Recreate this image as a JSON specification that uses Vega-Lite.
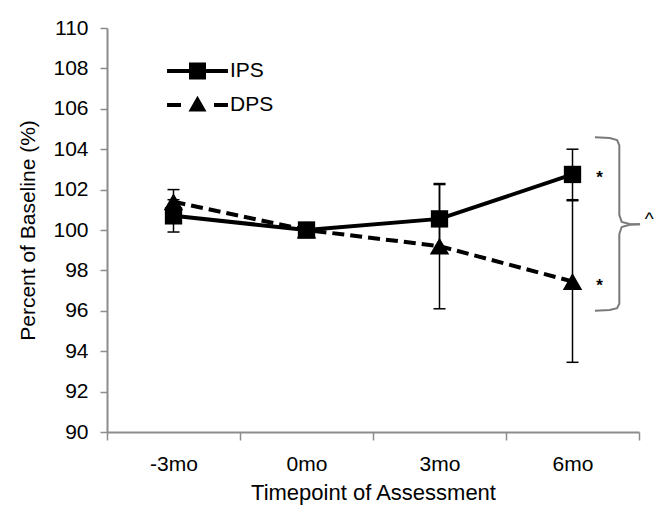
{
  "$schema": "https://vega.github.io/schema/vega-lite/v6.json",
  "width": 532,
  "height": 404,
  "autosize": {"type": "none"},
  "padding": {"left": 107, "top": 28, "right": 25, "bottom": 76},
  "background": "white",
  "config": {
    "font": "Liberation Sans",
    "view": {"stroke": null},
    "axis": {
      "labelFont": "Liberation Sans",
      "titleFont": "Liberation Sans",
      "labelColor": "#000",
      "titleColor": "#000",
      "titleFontWeight": "normal",
      "domainColor": "#8c8c8c",
      "tickColor": "#8c8c8c",
      "domainWidth": 2,
      "tickWidth": 1.5,
      "grid": false
    },
    "legend": {"labelFont": "Liberation Sans", "labelColor": "#000"}
  },
  "datasets": {
    "pts": [
      {"t": "-3mo", "series": "IPS", "mean": 100.7, "lo": 99.9, "hi": 101.5},
      {"t": "0mo", "series": "IPS", "mean": 100.0, "lo": 100.0, "hi": 100.0},
      {"t": "3mo", "series": "IPS", "mean": 100.55, "lo": 98.85, "hi": 102.25},
      {"t": "6mo", "series": "IPS", "mean": 102.75, "lo": 101.5, "hi": 104.0},
      {"t": "-3mo", "series": "DPS", "mean": 101.4, "lo": 100.8, "hi": 102.0},
      {"t": "0mo", "series": "DPS", "mean": 100.0, "lo": 100.0, "hi": 100.0},
      {"t": "3mo", "series": "DPS", "mean": 99.2, "lo": 96.1, "hi": 102.3},
      {"t": "6mo", "series": "DPS", "mean": 97.45, "lo": 93.45, "hi": 101.45}
    ],
    "stars": [
      {"t": "6mo", "v": 102.75, "txt": "*"},
      {"t": "6mo", "v": 97.45, "txt": "*"}
    ],
    "brace": [
      {"part": "upper", "ord": 1, "u": 3.669, "v": 104.59},
      {"part": "upper", "ord": 2, "u": 3.78, "v": 104.55},
      {"part": "upper", "ord": 3, "u": 3.835, "v": 104.45},
      {"part": "upper", "ord": 4, "u": 3.852, "v": 104.2},
      {"part": "upper", "ord": 5, "u": 3.852, "v": 100.75},
      {"part": "upper", "ord": 6, "u": 3.87, "v": 100.4},
      {"part": "upper", "ord": 7, "u": 3.93, "v": 100.3},
      {"part": "upper", "ord": 8, "u": 4.008, "v": 100.28},
      {"part": "lower", "ord": 1, "u": 3.669, "v": 96.0},
      {"part": "lower", "ord": 2, "u": 3.78, "v": 96.04},
      {"part": "lower", "ord": 3, "u": 3.835, "v": 96.13},
      {"part": "lower", "ord": 4, "u": 3.852, "v": 96.35},
      {"part": "lower", "ord": 5, "u": 3.852, "v": 99.8},
      {"part": "lower", "ord": 6, "u": 3.87, "v": 100.15},
      {"part": "lower", "ord": 7, "u": 3.93, "v": 100.26},
      {"part": "lower", "ord": 8, "u": 4.008, "v": 100.28}
    ],
    "caret": [{"u": 4.077, "v": 100.78, "txt": "^"}]
  },
  "layer": [
    {
      "data": {"name": "pts"},
      "encoding": {
        "x": {
          "field": "t",
          "type": "ordinal",
          "sort": ["-3mo", "0mo", "3mo", "6mo"],
          "scale": {"type": "band", "paddingInner": 0, "paddingOuter": 0},
          "axis": {
            "title": "Timepoint of Assessment",
            "labelAngle": 0,
            "tickBand": "extent",
            "tickSize": 8,
            "labelPadding": 13,
            "labelFontSize": 21,
            "titleFontSize": 22,
            "titlePadding": 8
          }
        }
      },
      "layer": [
        {
          "mark": {"type": "rule", "color": "#000", "strokeWidth": 1.5},
          "encoding": {
            "y": {
              "field": "lo",
              "type": "quantitative",
              "scale": {"domain": [90, 110], "nice": false, "zero": false},
              "axis": {
                "title": "Percent of Baseline (%)",
                "values": [90, 92, 94, 96, 98, 100, 102, 104, 106, 108, 110],
                "tickSize": 7,
                "labelPadding": 12,
                "labelFontSize": 21,
                "titleFontSize": 21,
                "titlePadding": 14
              }
            },
            "y2": {"field": "hi"}
          }
        },
        {
          "mark": {"type": "tick", "orient": "horizontal", "color": "#000", "size": 12, "thickness": 1.5, "opacity": 1},
          "encoding": {"y": {"field": "lo", "type": "quantitative"}}
        },
        {
          "mark": {"type": "tick", "orient": "horizontal", "color": "#000", "size": 12, "thickness": 1.5, "opacity": 1},
          "encoding": {"y": {"field": "hi", "type": "quantitative"}}
        },
        {
          "transform": [{"filter": "datum.series === 'IPS'"}],
          "mark": {"type": "line", "color": "#000", "strokeWidth": 4},
          "encoding": {"y": {"field": "mean", "type": "quantitative"}}
        },
        {
          "transform": [{"filter": "datum.series === 'DPS'"}],
          "mark": {"type": "line", "color": "#000", "strokeWidth": 4, "strokeDash": [12, 6]},
          "encoding": {"y": {"field": "mean", "type": "quantitative"}}
        },
        {
          "transform": [{"filter": "datum.series === 'IPS'"}],
          "mark": {"type": "point", "shape": "square", "filled": true, "color": "#000", "opacity": 1, "size": 300},
          "encoding": {"y": {"field": "mean", "type": "quantitative"}}
        },
        {
          "transform": [{"filter": "datum.series === 'DPS'"}],
          "mark": {"type": "point", "shape": "triangle-up", "filled": true, "color": "#000", "opacity": 1, "size": 380},
          "encoding": {"y": {"field": "mean", "type": "quantitative"}}
        },
        {
          "mark": {"type": "point", "filled": true, "color": "#000", "opacity": 0, "size": 10},
          "encoding": {
            "y": {"field": "mean", "type": "quantitative"},
            "shape": {
              "field": "series",
              "type": "nominal",
              "scale": {
                "domain": ["IPS", "DPS"],
                "range": [
                  "M-2.03,-0.133H2.03V0.133H-2.03Z M-0.567,-0.567H0.567V0.567H-0.567Z",
                  "M-2.03,-0.133H-1.1V0.133H-2.03Z M1.1,-0.133H2.03V0.133H1.1Z M0,-0.62L0.6,0.44H-0.6Z"
                ]
              },
              "legend": {
                "title": null,
                "orient": "none",
                "legendX": 75.5,
                "legendY": 28,
                "padding": 0,
                "symbolSize": 900,
                "symbolStrokeWidth": 0,
                "symbolOpacity": 1,
                "symbolFillColor": "#000",
                "labelFontSize": 21,
                "labelOffset": 17.5,
                "rowPadding": 9
              }
            }
          }
        },
        {
          "data": {"name": "stars"},
          "mark": {"type": "text", "color": "#000", "fontSize": 17, "fontWeight": "bold", "dx": 27, "dy": 4},
          "encoding": {
            "y": {"field": "v", "type": "quantitative"},
            "text": {"field": "txt"}
          }
        }
      ]
    },
    {
      "layer": [
        {
          "data": {"name": "brace"},
          "mark": {"type": "line", "color": "#7a7a7a", "strokeWidth": 2, "clip": false},
          "encoding": {
            "x": {"field": "u", "type": "quantitative", "scale": {"domain": [0, 4], "nice": false, "zero": false}, "axis": null},
            "y": {"field": "v", "type": "quantitative", "scale": {"domain": [90, 110], "nice": false, "zero": false}, "axis": null},
            "detail": {"field": "part"},
            "order": {"field": "ord", "type": "quantitative"}
          }
        },
        {
          "data": {"name": "caret"},
          "mark": {"type": "text", "color": "#000", "fontSize": 19, "dy": 5},
          "encoding": {
            "x": {"field": "u", "type": "quantitative", "scale": {"domain": [0, 4], "nice": false, "zero": false}, "axis": null},
            "y": {"field": "v", "type": "quantitative", "scale": {"domain": [90, 110], "nice": false, "zero": false}, "axis": null},
            "text": {"field": "txt"}
          }
        }
      ]
    }
  ],
  "resolve": {"scale": {"x": "independent", "y": "independent"}}
}
